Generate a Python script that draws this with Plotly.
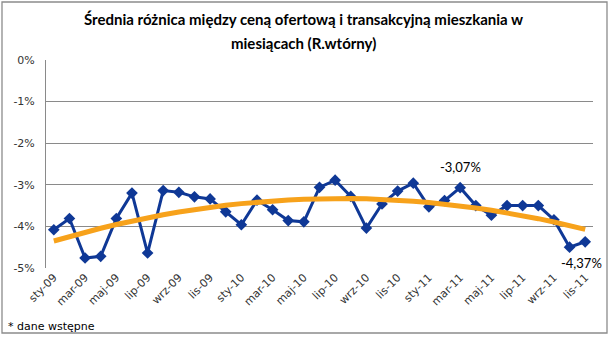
import numpy as np
import plotly.graph_objects as go

months = ["sty-09","lut-09","mar-09","kwi-09","maj-09","cze-09","lip-09","sie-09","wrz-09","paź-09","lis-09","gru-09",
          "sty-10","lut-10","mar-10","kwi-10","maj-10","cze-10","lip-10","sie-10","wrz-10","paź-10","lis-10","gru-10",
          "sty-11","lut-11","mar-11","kwi-11","maj-11","cze-11","lip-11","sie-11","wrz-11","paź-11","lis-11"]
values = [-4.08,-3.81,-4.76,-4.72,-3.81,-3.20,-4.64,-3.14,-3.18,-3.29,-3.34,-3.65,
          -3.96,-3.37,-3.60,-3.86,-3.89,-3.06,-2.89,-3.28,-4.04,-3.46,-3.15,-2.96,
          -3.53,-3.38,-3.07,-3.50,-3.73,-3.50,-3.50,-3.50,-3.84,-4.50,-4.37]
tick_labels = months[::2]
y_ticks = [0, -1, -2, -3, -4, -5]
y_tick_text = ["0%", "-1%", "-2%", "-3%", "-4%", "-5%"]
title_lines = ["Średnia różnica między ceną ofertową i transakcyjną mieszkania w",
               "miesiącach (R.wtórny)"]
footnote = "* dane wstępne"

# polynomial (order 2) trendline fitted to the data
idx = np.arange(1, len(values) + 1)
coef = np.polyfit(idx, values, 2)
trend = np.polyval(coef, idx)

W, H = 610, 337
ml, mr, mt, mb = 46, 17, 60, 69
pw, ph = W - ml - mr, H - mt - mb

def px_x(px):
    return (px - ml) / pw

def px_y(py):
    return (H - mb - py) / ph

fig = go.Figure()
fig.add_trace(go.Scatter(x=months, y=values, mode="lines+markers",
                         line=dict(color="#0f3896", width=3),
                         marker=dict(symbol="diamond", size=9, color="#0f3896"),
                         showlegend=False, hoverinfo="skip"))
fig.add_trace(go.Scatter(x=months, y=trend, mode="lines",
                         line=dict(color="#f7a21b", width=5),
                         showlegend=False, hoverinfo="skip"))

fig.add_annotation(x="mar-11", y=values[26], text="-3,07%", showarrow=False,
                   yshift=21, font=dict(family="Lato", size=13, color="#000"))
fig.add_annotation(x="lis-11", y=values[34], text="-4,37%", showarrow=False,
                   yshift=-21, xshift=-4, font=dict(family="Lato", size=13, color="#000"))

fig.add_annotation(xref="paper", yref="paper", x=px_x(6), y=px_y(326),
                   text=footnote, showarrow=False, xanchor="left", yanchor="middle",
                   font=dict(family="DejaVu Sans", size=11, color="#000"))

for line, py in zip(title_lines, [19, 43]):
    fig.add_annotation(xref="paper", yref="paper", x=px_x(W / 2 - 2), y=px_y(py),
                       text="<b>" + line + "</b>", showarrow=False,
                       xanchor="center", yanchor="middle",
                       font=dict(family="Lato", size=15, color="#000"))

# outer chart border
fig.add_shape(type="rect", xref="paper", yref="paper",
              x0=px_x(2), x1=px_x(607), y0=px_y(333), y1=px_y(2),
              line=dict(color="#8c8c8c", width=1.3), layer="below")

fig.update_layout(
    width=W, height=H,
    margin=dict(l=ml, r=mr, t=mt, b=mb),
    paper_bgcolor="white", plot_bgcolor="white",
    xaxis=dict(type="category", tickmode="array", tickvals=tick_labels, ticktext=tick_labels,
               tickangle=-45, tickfont=dict(family="DejaVu Sans", size=11, color="#333"),
               showgrid=False, showline=False, ticks="", range=[-0.5, len(months) - 0.5]),
    yaxis=dict(range=[-5, 0], tickvals=y_ticks, ticktext=y_tick_text,
               tickfont=dict(family="DejaVu Sans", size=11, color="#333"),
               ticklabelstandoff=8,
               showgrid=True, gridcolor="#8a8a8a", gridwidth=1, zeroline=False,
               showline=True, linecolor="#8a8a8a", ticks="", ticklen=0),
)
fig.write_html("out.html")
